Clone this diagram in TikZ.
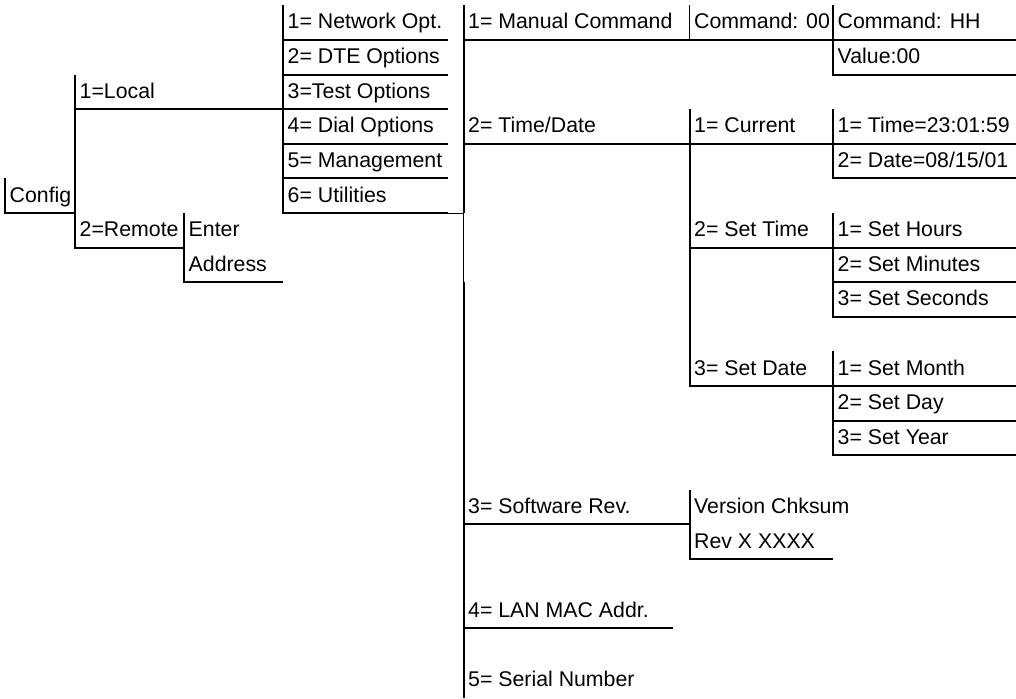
\documentclass[tikz,border=0pt]{standalone}
\usepackage{fontspec}
\setmainfont{Liberation Sans}
\begin{document}
\begin{tikzpicture}[x=1pt,y=-1pt,
  rule/.style={line width=2pt},
  hair/.style={line width=1pt},
  lbl/.style={anchor=base west,inner sep=0pt,font=\fontsize{21.3}{24}\selectfont}]
\useasboundingbox (0,0) rectangle (1016,698);

% ---- menu labels (baseline 11pt above the row rule) ----
\node[lbl] (config)  at (9.5,202.0)  {Config};
\node[lbl] (local)   at (79.5,98.2)  {1=Local};
\node[lbl] (remote)  at (79.5,236.6) {2=Remote};
\node[lbl] (enter)   at (188.5,236.6) {Enter};
\node[lbl] (address) at (188.5,271.2) {Address};

\node[lbl] (netopt)  at (287.5,29.0)  {1= Network Opt.};
\node[lbl] (dteopt)  at (287.5,63.6)  {2= DTE Options};
\node[lbl] (testopt) at (287.5,98.2)  {3=Test Options};
\node[lbl] (dialopt) at (287.5,132.8) {4= Dial Options};
\node[lbl] (mgmt)    at (287.5,167.4) {5= Management};
\node[lbl] (util)    at (287.5,202.0) {6= Utilities};

\node[lbl] (manual)  at (468,29.0)   {1= Manual Command};
\node[lbl] (timedate) at (468,132.8) {2= Time/Date};
\node[lbl] (swrev)   at (468,513.4)  {3= Software Rev.};
\node[lbl] (lanmac)  at (468,617.2)  {4= LAN MAC Addr.};
\node[lbl] (serial)  at (468,686.4)  {5= Serial Number};

\node[lbl] (cmd00)   at (694,29.0)   {Command: 00};
\node[lbl] (current) at (694,132.8)  {1= Current};
\node[lbl] (settime) at (694,236.6)  {2= Set Time};
\node[lbl] (setdate) at (694,375.0)  {3= Set Date};
\node[lbl] (vercks)  at (694,513.4)  {Version Chksum};
\node[lbl] (revx)    at (694,548.0)  {Rev X XXXX};

\node[lbl] (cmdhh)   at (837.5,29.0)  {Command: HH};
\node[lbl] (value)   at (837.5,63.6)  {Value:00};
\node[lbl] (tcur)    at (837.5,132.8) {1= Time=23:01:59};
\node[lbl] (dcur)    at (837.5,167.4) {2= Date=08/15/01};
\node[lbl] (hours)   at (837.5,236.6) {1= Set Hours};
\node[lbl] (minutes) at (837.5,271.2) {2= Set Minutes};
\node[lbl] (seconds) at (837.5,305.8) {3= Set Seconds};
\node[lbl] (month)   at (837.5,375.0) {1= Set Month};
\node[lbl] (day)     at (837.5,409.6) {2= Set Day};
\node[lbl] (year)    at (837.5,444.2) {3= Set Year};

% ---- rules: each entry has a bar on its left and a line below ----
% Config
\draw[rule] (5,178.4) -- (5,213) -- (75,213);
% Local / Remote
\draw[rule] (75,74.6) -- (75,247.6) -- (184,247.6);
\draw[rule] (75,109.2) -- (283,109.2);
% Enter Address
\draw[rule] (184,213) -- (184,282.2) -- (283,282.2);
% local option list
\draw[rule] (283,5.4) -- (283,213) -- (448,213);
\foreach \y in {40,74.6,109.2,143.8,178.4}
  \draw[rule] (283,\y) -- (448,\y);
\draw[hair] (448,213) -- (463.5,213);
% utilities trunk
\draw[rule] (463.5,5.4) -- (463.5,213);
\draw[hair] (463.5,213) -- (463.5,282.2);
\draw[rule] (463.5,282.2) -- (463.5,698);
\draw[rule] (463.5,40) -- (1016,40);
\draw[rule] (463.5,143.8) -- (1016,143.8);
\draw[rule] (463.5,524.4) -- (689.5,524.4);
\draw[rule] (463.5,628.2) -- (673,628.2);
% manual command
\draw[hair] (689.5,5.4) -- (689.5,40);
\draw[rule] (833,5.4) -- (833,74.6) -- (1016,74.6);
% time / date
\draw[rule] (689.5,109.2) -- (689.5,386) -- (1016,386);
\draw[rule] (689.5,247.6) -- (1016,247.6);
\draw[rule] (833,109.2) -- (833,178.4) -- (1016,178.4);
\draw[rule] (833,213) -- (833,316.8) -- (1016,316.8);
\draw[rule] (833,282.2) -- (1016,282.2);
\draw[rule] (833,351.4) -- (833,455.2) -- (1016,455.2);
\draw[rule] (833,420.6) -- (1016,420.6);
% software revision
\draw[rule] (689.5,489.8) -- (689.5,559) -- (833,559);
\end{tikzpicture}
\end{document}
